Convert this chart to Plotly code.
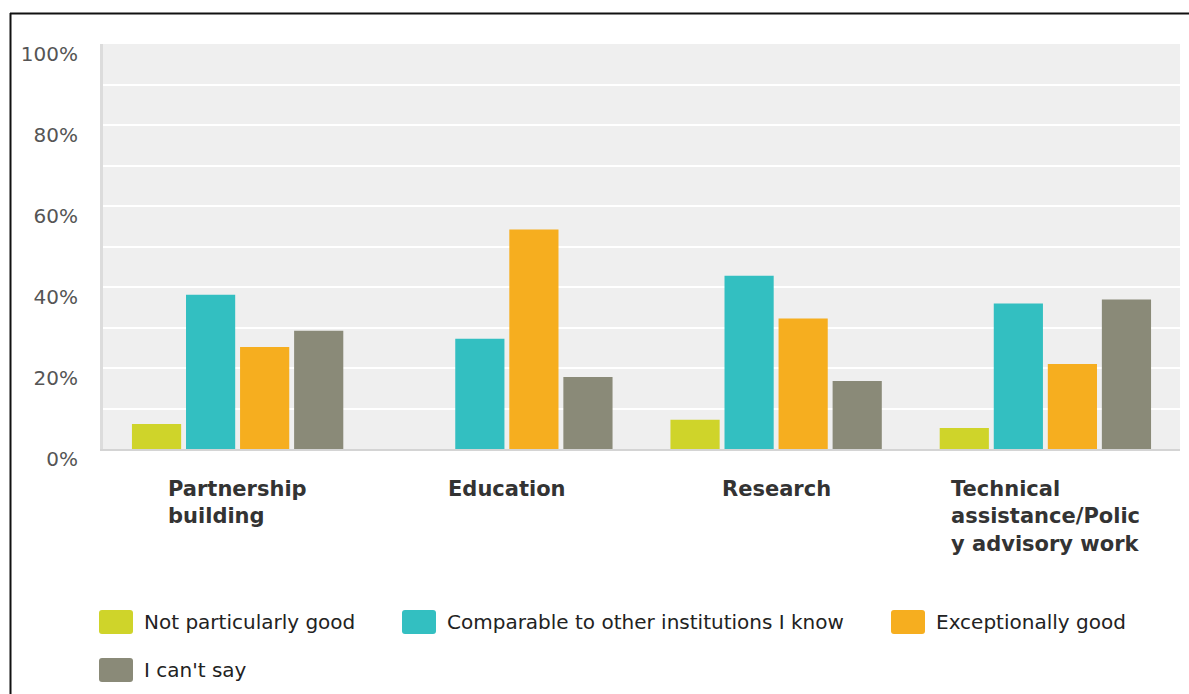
import plotly.graph_objects as go

categories = ["Partnership building", "Education", "Research", "Technical assistance/Policy advisory work"]
category_labels = ["Partnership<br>building", "Education", "Research",
                   "Technical<br>assistance/Polic<br>y advisory work"]
series_names = ["Not particularly good", "Comparable to other institutions I know",
                "Exceptionally good", "I can't say"]
not_particularly_good = [6.2, 0.0, 7.2, 5.2]
comparable = [38.1, 27.2, 42.8, 35.9]
exceptionally_good = [25.2, 54.2, 32.2, 21.0]
cant_say = [29.2, 17.8, 16.8, 36.9]
y_ticks = [0, 20, 40, 60, 80, 100]
y_tick_labels = ["0%", "20%", "40%", "60%", "80%", "100%"]

series_values = [not_particularly_good, comparable, exceptionally_good, cant_say]
colors = ["#cfd42a", "#33bfc1", "#f6ae1f", "#8a8a78"]

W, H = 1189, 694
PL, PR, PT, PB = 103, 1180, 44, 449


def px(x):
    return (x - PL) / (PR - PL)


def py(y):
    return (PB - y) / (PB - PT)


fig = go.Figure()
for name, vals, col in zip(series_names, series_values, colors):
    fig.add_trace(go.Bar(x=categories, y=vals, name=name, marker_color=col,
                         marker_line_width=0, showlegend=False))

font_reg = "DejaVu Sans, Verdana, sans-serif"
font_bold = "DejaVu Sans, Verdana, sans-serif"

annotations = []
for cat, lab in zip(categories, category_labels):
    annotations.append(dict(x=cat, xref="x", y=0, yref="paper", yanchor="top",
                            xanchor="center", yshift=-26, text="<b>" + lab + "</b>",
                            align="left", showarrow=False,
                            font=dict(family=font_bold, size=21, color="#333333")))

shapes = []


def rounded_rect(x0, y0, x1, y1, r, color):
    pts = (f"M {px(x0 + r)} {py(y0)} L {px(x1 - r)} {py(y0)} "
           f"Q {px(x1)} {py(y0)} {px(x1)} {py(y0 + r)} "
           f"L {px(x1)} {py(y1 - r)} Q {px(x1)} {py(y1)} {px(x1 - r)} {py(y1)} "
           f"L {px(x0 + r)} {py(y1)} Q {px(x0)} {py(y1)} {px(x0)} {py(y1 - r)} "
           f"L {px(x0)} {py(y0 + r)} Q {px(x0)} {py(y0)} {px(x0 + r)} {py(y0)} Z")
    return dict(type="path", xref="paper", yref="paper", path=pts,
                fillcolor=color, line=dict(width=0), layer="above")


legend_pos = [(99, 622), (402, 622), (891, 622), (99, 670)]
for (lx, ly), name, col in zip(legend_pos, series_names, colors):
    shapes.append(rounded_rect(lx, ly - 12, lx + 34, ly + 12, 3, col))
    annotations.append(dict(x=px(lx + 43), xref="paper", y=py(ly), yref="paper",
                            xanchor="left", yanchor="middle", text=name,
                            showarrow=False,
                            font=dict(family=font_reg, size=20, color="#222222")))

# frame lines
shapes.append(dict(type="line", xref="paper", yref="paper", x0=px(10), x1=px(1189),
                   y0=py(13.5), y1=py(13.5), line=dict(color="#111111", width=2)))
shapes.append(dict(type="line", xref="paper", yref="paper", x0=px(10.5), x1=px(10.5),
                   y0=py(13), y1=py(694), line=dict(color="#111111", width=2)))

fig.update_layout(
    width=W, height=H,
    margin=dict(l=PL, r=W - PR, t=PT, b=H - PB),
    paper_bgcolor="white", plot_bgcolor="#efefef",
    barmode="group", bargap=0.197, bargroupgap=0.09,
    annotations=annotations, shapes=shapes,
    font=dict(family=font_reg),
)
fig.update_xaxes(showticklabels=False, showgrid=False, showline=True,
                 linecolor="#d4d4d4", linewidth=2, ticks="", fixedrange=True)
fig.update_yaxes(range=[0, 100], tickmode="array", tickvals=y_ticks, ticktext=y_tick_labels,
                 showgrid=True, gridcolor="white", gridwidth=2,
                 minor=dict(dtick=10, showgrid=True, gridcolor="white", gridwidth=2),
                 showline=True, linecolor="#dcdcdc", linewidth=3,
                 zeroline=False, ticks="",
                 tickfont=dict(family=font_reg, size=20, color="#555555"),
                 ticklabelstandoff=18, ticklabelshift=10)

fig.write_html("out.html", config={"displayModeBar": False},
               post_script="document.body.style.margin='0';document.body.style.overflow='hidden';")
